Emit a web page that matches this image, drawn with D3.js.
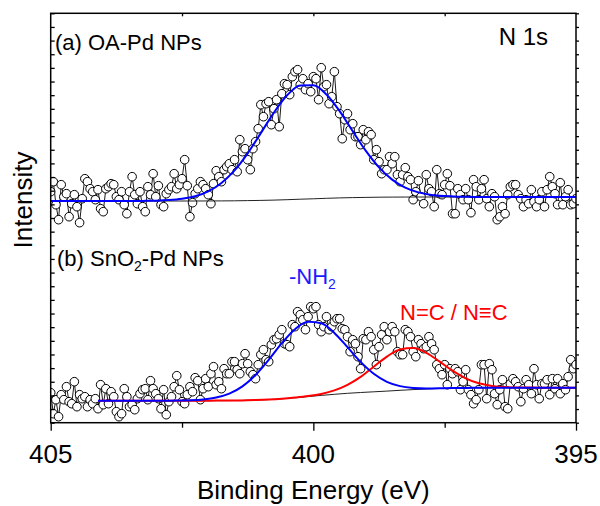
<!DOCTYPE html>
<html>
<head>
<meta charset="utf-8">
<script src="https://cdn.jsdelivr.net/npm/d3@7"></script>
<style>
  html, body { margin: 0; padding: 0; background: #fff; }
  svg { display: block; }
  text { font-family: Arial, "Liberation Sans", Helvetica, sans-serif; }
</style>
</head>
<body>
<svg id="chart" width="600" height="506"></svg>
<script>
// ---------------- DATA ----------------
// Binding energy grid of the measured spectra (eV), 0.05 eV step
const energies = d3.range(201).map(i => +(405 - 0.05 * i).toFixed(2));

// (a) OA-Pd NPs, N 1s raw intensity (a.u., stacked)
const intensityA = [
  231,241,218,203,238,226,229,206,219,228,216,200,224,244,241,234,231,223,233,214,
  211,234,236,239,238,226,223,231,218,209,231,246,228,219,231,216,211,236,228,249,
  226,237,218,216,229,233,236,249,234,238,244,263,237,206,220,229,234,241,238,234,
  228,219,239,252,246,241,253,256,
  259,253,263,251,283,271,274,263,253,274,281,294,318,306,319,321,298,314,323,296,
  329,339,338,328,346,351,353,338,344,333,339,331,346,344,323,355,336,338,319,326,
  351,316,309,284,303,309,293,299,286,286,278,293,283,291,288,263,273,261,249,253,
  253,266,259,266,248,241,
  248,255,246,243,223,231,242,226,219,248,234,231,216,253,229,228,238,249,237,209,
  209,234,228,223,234,223,210,243,236,223,234,243,224,216,229,226,203,206,216,209,
  228,236,238,238,228,224,216,223,219,233,221,216,223,231,216,233,246,236,229,218,
  240,218,226,233,218,219,224
];

// (b) SnO2-Pd NPs, N 1s raw intensity (a.u., stacked)
const intensityB = [
  30,9,23,6,28,23,36,21,19,41,16,28,24,26,16,23,19,24,14,38,
  18,34,19,31,26,11,6,9,34,26,16,18,13,24,29,33,34,23,42,34,
  29,24,14,33,8,21,26,36,47,33,21,19,28,36,31,45,42,23,34,44,
  36,49,56,38,41,34,54,49,
  49,61,61,53,49,59,69,59,51,48,44,58,68,73,63,61,78,83,84,88,
  93,79,78,76,98,96,111,108,103,93,106,116,114,116,98,91,96,106,93,96,
  101,104,104,94,93,86,71,83,79,66,54,84,83,91,86,73,58,76,88,96,
  83,91,96,91,71,68,
  68,93,91,86,71,66,83,79,74,76,86,79,73,58,54,48,58,38,54,49,
  54,51,33,41,53,33,28,19,23,33,58,58,24,59,53,29,18,33,43,16,
  14,39,44,41,36,21,34,43,38,29,54,38,24,39,39,43,28,44,34,44,
  29,39,33,46,63,54,58
];

// (a) fit curves, sampled every 0.25 eV
const fitEnergyA = d3.range(41).map(i => 405 - 0.25 * i);
const fitA = [
  221.7,221.7,221.7,221.7,221.7,221.7,221.7,221.8,222.0,222.6,
  223.9,226.5,231.4,239.7,252.3,269.4,289.6,310.2,327.4,337.3,
  337.5,328.2,311.6,291.5,271.8,255.3,243.1,235.1,230.3,227.8,
  226.6,226.0,225.8,225.7,225.7,225.7,225.7,225.7,225.7,225.7,225.7
];
const backgroundA = [
  221.7,221.7,221.7,221.7,221.7,221.7,221.7,221.7,221.7,221.7,
  221.7,221.7,221.75,221.8,221.9,222.1,222.3,222.6,223.0,223.5,
  223.9,224.4,224.8,225.1,225.3,225.5,225.6,225.65,225.7,225.7,
  225.7,225.7,225.7,225.7,225.7,225.7,225.7,225.7,225.7,225.7,225.7
];

// (b) fit curves
const fitEnergyB = d3.range(37).map(i => 404.1 - 0.25 * i).concat([395]);
const fitNH2 = [
  22.0,22.0,22.0,22.0,22.0,22.0,22.1,22.4,23.2,25.1,
  29.0,36.3,47.7,62.8,79.5,93.5,100.9,99.4,89.8,75.5,
  60.8,48.9,40.9,36.6,34.8,34.3,34.4,34.7,34.8,34.9,
  35.0,35.0,35.0,35.0,35.0,35.0,35.0,35.0
];
const fitNC = [
  22.0,22.0,22.0,22.0,22.0,22.0,22.0,22.0,22.0,22.1,
  22.1,22.3,22.6,23.1,23.9,25.1,26.6,28.8,32.3,37.8,
  45.8,56.0,66.1,73.3,74.6,69.9,61.3,52.0,44.4,39.4,
  36.8,35.6,35.2,35.1,35.0,35.0,35.0,35.0
];
const backgroundB = [
  22.0,22.0,22.0,22.0,22.0,22.0,22.0,22.0,22.0,22.05,
  22.1,22.3,22.6,23.1,23.9,24.9,26.1,27.3,28.4,29.4,
  30.2,30.9,31.6,32.4,33.1,33.7,34.2,34.6,34.8,34.9,
  35.0,35.0,35.0,35.0,35.0,35.0,35.0,35.0
];

const xTickLabels = [405, 400, 395];
const xMinorTicks = [402.5, 397.5];
const xLabel = "Binding Energy (eV)";
const yLabel = "Intensity";

// ---------------- CHART ----------------
const svg = d3.select("#chart");
const L = 50.7, R = 576, T = 13.3, B = 422.7;
const x = d3.scaleLinear().domain([405, 395]).range([L, R]);
const y = d3.scaleLinear().domain([0, 409.4]).range([B, T]);
const font = 'Arial, "Liberation Sans", sans-serif';

svg.append("defs").append("clipPath").attr("id", "clip")
  .append("rect").attr("x", L).attr("y", T).attr("width", R - L).attr("height", B - T);

const plot = svg.append("g").attr("clip-path", "url(#clip)");

const lineOf = (xs, ys, curve) => d3.line()
  .x((d, i) => x(xs[i])).y(d => y(d)).curve(curve || d3.curveLinear)(ys);

function drawSpectrum(vals) {
  plot.append("path").attr("d", lineOf(energies, vals))
    .attr("fill", "none").attr("stroke", "#000").attr("stroke-width", 0.9);
  plot.append("g").selectAll("circle").data(vals).join("circle")
    .attr("cx", (d, i) => x(energies[i])).attr("cy", d => y(d))
    .attr("r", 4.3).attr("fill", "#fff").attr("stroke", "#000").attr("stroke-width", 1);
}
drawSpectrum(intensityA);
drawSpectrum(intensityB);

const smooth = d3.curveMonotoneX;
// backgrounds
plot.append("path").attr("d", lineOf(fitEnergyA, backgroundA, smooth))
  .attr("fill", "none").attr("stroke", "#222").attr("stroke-width", 1);
plot.append("path").attr("d", lineOf(fitEnergyB, backgroundB, smooth))
  .attr("fill", "none").attr("stroke", "#222").attr("stroke-width", 1);
// fits
plot.append("path").attr("d", lineOf(fitEnergyB, fitNC, smooth))
  .attr("fill", "none").attr("stroke", "#ff0000").attr("stroke-width", 2);
plot.append("path").attr("d", lineOf(fitEnergyB, fitNH2, smooth))
  .attr("fill", "none").attr("stroke", "#0000ff").attr("stroke-width", 2);
plot.append("path").attr("d", lineOf(fitEnergyA, fitA, smooth))
  .attr("fill", "none").attr("stroke", "#0000ff").attr("stroke-width", 2);

// ---------------- AXES ----------------
const clean = g => { g.select(".domain").remove(); g.selectAll("line").attr("stroke", "#000").attr("stroke-width", 1.3); };
svg.append("g").attr("transform", `translate(0,${B})`)
  .call(d3.axisBottom(x).tickValues(xTickLabels).tickSize(8).tickFormat("")).call(clean);
svg.append("g").attr("transform", `translate(0,${B})`)
  .call(d3.axisBottom(x).tickValues(xMinorTicks).tickSize(5).tickFormat("")).call(clean);
svg.append("g").attr("transform", `translate(0,${T})`)
  .call(d3.axisTop(x).tickValues([402.5, 400, 397.5]).tickSize(-3).tickFormat("")).call(clean);
const yTicks = d3.range(31).map(i => i * 409.4 / 30);
svg.append("g").attr("transform", `translate(${L},0)`)
  .call(d3.axisLeft(y).tickValues(yTicks).tickSize(-4).tickFormat("")).call(clean);
svg.append("g").attr("transform", `translate(${R},0)`)
  .call(d3.axisRight(y).tickValues(yTicks).tickSize(3).tickFormat("")).call(clean);

svg.append("rect").attr("x", L).attr("y", T).attr("width", R - L).attr("height", B - T)
  .attr("fill", "none").attr("stroke", "#000").attr("stroke-width", 1.5);

svg.append("g").selectAll("text").data(xTickLabels).join("text")
  .attr("x", d => x(d)).attr("y", 463).attr("text-anchor", "middle")
  .attr("font-size", 26).attr("font-family", font).text(d => d);

svg.append("text").attr("x", (L + R) / 2).attr("y", 499).attr("text-anchor", "middle")
  .attr("font-size", 26).attr("font-family", font).text(xLabel);

svg.append("text").attr("transform", "translate(32,200) rotate(-90)")
  .attr("text-anchor", "middle").attr("font-size", 26).attr("font-family", font).text(yLabel);

// ---------------- ANNOTATIONS ----------------
svg.append("text").attr("x", 55).attr("y", 50).attr("font-size", 22).attr("font-family", font)
  .text("(a) OA-Pd NPs");
svg.append("text").attr("x", 548).attr("y", 45).attr("text-anchor", "end")
  .attr("font-size", 24).attr("font-family", font).text("N 1s");

const tb = svg.append("text").attr("x", 57).attr("y", 266).attr("font-size", 22).attr("font-family", font);
tb.append("tspan").text("(b) SnO");
tb.append("tspan").attr("dy", 5).attr("font-size", 14).text("2");
tb.append("tspan").attr("dy", -5).text("-Pd NPs");

const tn = svg.append("text").attr("x", 289).attr("y", 284).attr("font-size", 22)
  .attr("font-family", font).attr("fill", "#1a1aff");
tn.append("tspan").text("-NH");
tn.append("tspan").attr("dy", 5).attr("font-size", 14).text("2");

svg.append("text").attr("x", 400).attr("y", 320).attr("font-size", 22)
  .attr("font-family", font).attr("fill", "#ff0000").text("N=C / N\u2261C");
</script>
</body>
</html>
